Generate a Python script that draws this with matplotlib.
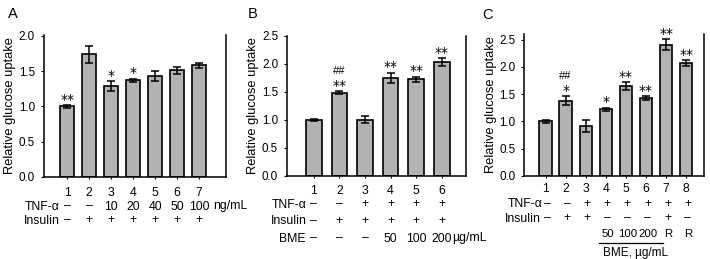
import matplotlib
matplotlib.use("Agg")
import matplotlib.pyplot as plt
import matplotlib.transforms as mtransforms
from matplotlib.lines import Line2D

plt.rcParams['font.family'] = ['Liberation Sans', 'DejaVu Sans']

# ---------------- data ----------------
a_groups = [1, 2, 3, 4, 5, 6, 7]
a_values = [1.00, 1.74, 1.29, 1.37, 1.43, 1.51, 1.58]
a_errors = [0.02, 0.12, 0.07, 0.02, 0.07, 0.05, 0.04]
a_sig = ["**", "", "*", "*", "", "", ""]
a_hash = ["", "", "", "", "", "", ""]
a_tnf = ["–", "–", "10", "20", "40", "50", "100"]
a_insulin = ["–", "+", "+", "+", "+", "+", "+"]
a_yticks = [0.0, 0.5, 1.0, 1.5, 2.0]

b_groups = [1, 2, 3, 4, 5, 6]
b_values = [1.00, 1.48, 1.00, 1.75, 1.72, 2.03]
b_errors = [0.02, 0.03, 0.06, 0.09, 0.05, 0.07]
b_sig = ["", "**", "", "**", "**", "**"]
b_hash = ["", "##", "", "", "", ""]
b_tnf = ["–", "–", "+", "+", "+", "+"]
b_insulin = ["–", "+", "+", "+", "+", "+"]
b_bme = ["–", "–", "–", "50", "100", "200"]
b_yticks = [0.0, 0.5, 1.0, 1.5, 2.0, 2.5]

c_groups = [1, 2, 3, 4, 5, 6, 7, 8]
c_values = [1.00, 1.38, 0.91, 1.22, 1.65, 1.43, 2.41, 2.07]
c_errors = [0.03, 0.08, 0.11, 0.03, 0.07, 0.03, 0.10, 0.05]
c_sig = ["", "*", "", "*", "**", "**", "**", "**"]
c_hash = ["", "##", "", "", "", "", "", ""]
c_tnf = ["–", "–", "+", "+", "+", "+", "+", "+"]
c_insulin = ["–", "+", "+", "–", "–", "–", "+", "–"]
c_bme = ["", "", "", "50", "100", "200", "R", "R"]
c_yticks = [0.0, 0.5, 1.0, 1.5, 2.0, 2.5]

ylabel = "Relative glucose uptake"

# ---------------- figure ----------------
W, H = 710, 259
fig = plt.figure(figsize=(W / 100, H / 100), dpi=100)

BAR_COLOR = "#b2b2b2"
FS_TICK = 8.4
FS_TAB = 8.8
FS_LAB = 9.3


def make_axes(left, right, bottom, top):
    return fig.add_axes([left / W, 1 - bottom / H, (right - left) / W, (bottom - top) / H])


def setup(ax, groups, values, errors, sig, hsh, xlim, ylim, yticks, width, ylab_x):
    ax.bar(groups, values, width=width, color=BAR_COLOR, edgecolor="black",
           linewidth=1.2, zorder=2)
    ax.errorbar(groups, values, yerr=errors, fmt="none", ecolor="black",
                elinewidth=1.1, capsize=2.6, capthick=1.1, zorder=3)
    for g, v, e, s, h in zip(groups, values, errors, sig, hsh):
        if s:
            ax.annotate(s, (g, v + e), xytext=(0, 1.0), textcoords="offset points",
                        ha="center", va="baseline", fontsize=10,
                        family="DejaVu Sans", annotation_clip=False)
        if h:
            ax.annotate(h, (g, v + e), xytext=(0, 12.5), textcoords="offset points",
                        ha="center", va="baseline", fontsize=8, annotation_clip=False)
    ax.set_xlim(*xlim)
    ax.set_ylim(*ylim)
    ax.set_yticks(yticks)
    ax.set_yticklabels([f"{t:.1f}" for t in yticks])
    ax.set_xticks(groups)
    ax.set_xticklabels([])
    ax.spines["top"].set_visible(False)
    for sp in ("left", "right", "bottom"):
        ax.spines[sp].set_linewidth(1.1)
    ax.tick_params(axis="y", direction="out", length=2.2, width=0.8, pad=4,
                   labelsize=FS_TICK)
    ax.tick_params(axis="x", direction="out", length=1.5, width=0.8)
    ax.set_ylabel(ylabel, fontsize=FS_LAB, va="center")
    lab_tr = mtransforms.blended_transform_factory(fig.transFigure, ax.transAxes)
    ax.yaxis.set_label_coords(ylab_x, 0.5, transform=lab_tr)


def row(ax, xs, labels, ybase, fs=FS_TAB, dx=0.0):
    tr = mtransforms.blended_transform_factory(ax.transData, fig.transFigure)
    tr = tr + mtransforms.ScaledTranslation(dx / 100, 0, fig.dpi_scale_trans)
    for x, s in zip(xs, labels):
        if s:
            ax.text(x, 1 - ybase / H, s, transform=tr, ha="center", va="baseline",
                    fontsize=fs, clip_on=False)


def row_label(ax, x, s, ybase, off, fs=FS_TAB):
    tr = mtransforms.blended_transform_factory(ax.transData, fig.transFigure)
    tr = tr + mtransforms.ScaledTranslation(-off / 100, 0, fig.dpi_scale_trans)
    ax.text(x, 1 - ybase / H, s, transform=tr, ha="right", va="baseline",
            fontsize=fs, clip_on=False)


def free_text(ax, x, s, ybase, fs=FS_TAB):
    tr = mtransforms.blended_transform_factory(ax.transData, fig.transFigure)
    ax.text(x, 1 - ybase / H, s, transform=tr, ha="left", va="baseline",
            fontsize=fs, clip_on=False)


# ---- Panel A ----
axA = make_axes(43.5, 226, 176.7, 34.5)
setup(axA, a_groups, a_values, a_errors, a_sig, a_hash, (-0.077, 8.22), (0, 2.02),
      a_yticks, 0.63, 10 / W)
row(axA, a_groups, [str(g) for g in a_groups], 196)
row(axA, a_groups, a_tnf, 209.5)
row(axA, a_groups, a_insulin, 223.5)
row_label(axA, 1, "TNF-α", 209.5, 8)
row_label(axA, 1, "Insulin", 223.5, 7)
free_text(axA, 7.63, "ng/mL", 209.5)
fig.text(8 / W, 1 - 17.5 / H, "A", fontsize=10.5, ha="left", va="baseline")

# ---- Panel B ----
axB = make_axes(286.7, 466, 175.7, 35.7)
setup(axB, b_groups, b_values, b_errors, b_sig, b_hash, (-0.059, 6.95), (0, 2.5),
      b_yticks, 0.61, 253.3 / W)
row(axB, b_groups, [str(g) for g in b_groups], 194.5)
row(axB, b_groups, b_tnf, 207.5)
row(axB, b_groups, b_insulin, 224)
row(axB, b_groups, b_bme, 241.5)
row_label(axB, 1, "TNF-α", 207.5, 7)
row_label(axB, 1, "Insulin", 224, 7)
row_label(axB, 1, "BME", 241.5, 8)
free_text(axB, 6.42, "µg/mL", 241.5)
fig.text(248 / W, 1 - 17.5 / H, "B", fontsize=10.5, ha="left", va="baseline")

# ---- Panel C ----
axC = make_axes(524, 704.3, 175.7, 34.3)
setup(axC, c_groups, c_values, c_errors, c_sig, c_hash, (-0.07, 8.9), (0, 2.6),
      c_yticks, 0.61, 491 / W)
row(axC, c_groups, [str(g) for g in c_groups], 192)
row(axC, c_groups, c_tnf, 207, dx=1.5)
row(axC, c_groups, c_insulin, 221.5, dx=1.5)
row(axC, c_groups, c_bme, 237, fs=8.2, dx=2)
row_label(axC, 1, "TNF-α", 207, 3)
row_label(axC, 1, "Insulin", 221.5, 5)
trC = mtransforms.blended_transform_factory(axC.transData, fig.transFigure)
axC.add_line(Line2D([3.66, 6.85], [1 - 243 / H, 1 - 243 / H], transform=trC,
                    color="black", linewidth=0.9, clip_on=False))
free_text(axC, 3.86, "BME, µg/mL", 256, fs=8.5)
fig.text(482 / W, 1 - 19 / H, "C", fontsize=10.5, ha="left", va="baseline")

fig.savefig("out.png", dpi=100)
